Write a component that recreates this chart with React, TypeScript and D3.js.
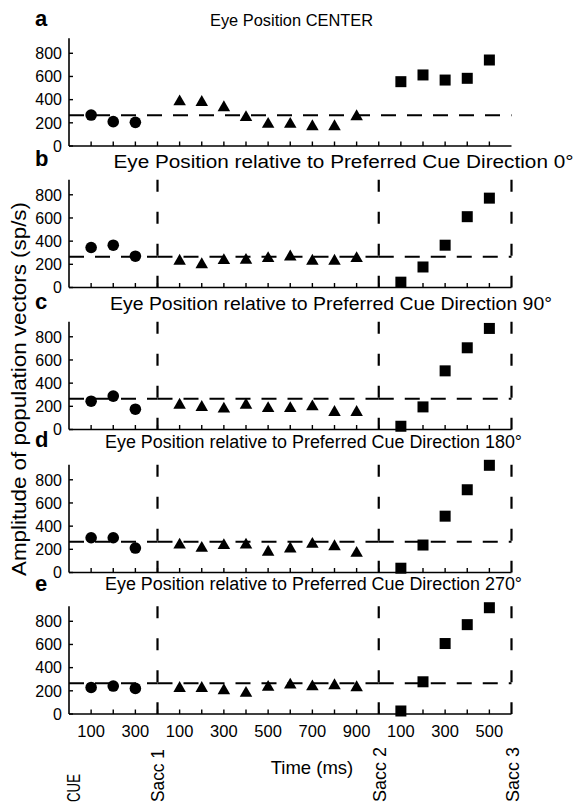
import React from "react";
import * as d3 from "d3";

// Time bins (ms) within each epoch
const cueTimes = [100, 200, 300];
const delayTimes = [100, 200, 300, 400, 500, 600, 700, 800, 900];
const postTimes = [100, 200, 300, 400, 500];

// Epoch boundaries, in slot units along the time axis
const eventLabels = ["CUE", "Sacc 1", "Sacc 2", "Sacc 3"];
const eventSlots = [0, 4, 14, 20];

// Tick labels printed under the bottom panel
const cueTickLabels = [100, 300];
const delayTickLabels = [100, 300, 500, 700, 900];
const postTickLabels = [100, 300, 500];

const yTicks = [0, 200, 400, 600, 800];
const baselineLevel = 265;

const panelLetters = ["a", "b", "c", "d", "e"];
const panelTitles = [
  "Eye Position CENTER",
  "Eye Position relative to Preferred Cue Direction 0\u00B0",
  "Eye Position relative to Preferred Cue Direction 90\u00B0",
  "Eye Position relative to Preferred Cue Direction 180\u00B0",
  "Eye Position relative to Preferred Cue Direction 270\u00B0",
];

// Amplitude of population vectors (sp/s), one array per epoch per panel
const cueValues = [
  [267, 210, 204],
  [345, 365, 270],
  [244, 288, 175],
  [300, 300, 211],
  [229, 241, 221],
];
const delayValues = [
  [395, 390, 345, 259, 201, 201, 181, 181, 267],
  [241, 211, 246, 249, 264, 278, 241, 241, 264],
  [224, 204, 190, 224, 195, 195, 210, 161, 161],
  [251, 223, 246, 251, 189, 217, 257, 237, 180],
  [235, 235, 215, 192, 244, 264, 249, 258, 241],
];
const postValues = [
  [555, 613, 569, 584, 742],
  [46, 177, 365, 611, 771],
  [28, 195, 506, 705, 872],
  [37, 237, 486, 714, 925],
  [26, 278, 608, 771, 917],
];

const W = 584;
const H = 805;
const FONT = "'Liberation Sans', Arial, Helvetica, sans-serif";

const panelBaselines = [146, 287.5, 429.5, 572.5, 714];
const titleBaselines = [26, 168, 310, 448, 590];
const titleCenter = [291.5, 343.5, 331, 313.5, 313.5];
const titleLen = [163, 460, 442, 417, 417];
const titleSize = [16.5, 18, 18, 18, 18];
const letterBaselines = [26, 166, 309, 447, 591];

const slotScale = d3.scaleLinear().domain([0, 20]).range([69, 511.5]);
const yMax = 930;
const pxPerUnit = 0.1159;

const cueSlot = (t: number) => t / 100;
const delaySlot = (t: number) => 4 + t / 100;
const postSlot = (t: number) => 14 + t / 100;

const triangle = d3.symbol().type(d3.symbolTriangle).size(68);

function Panel({ i }: { i: number }) {
  const base = panelBaselines[i];
  const y = d3.scaleLinear().domain([0, yMax]).range([base, base - yMax * pxPerUnit]);
  const top = y(yMax);
  const x0 = slotScale(0);
  const x1 = slotScale(20);
  const yRef = y(baselineLevel);
  const tickSlots = d3.range(1, 20);

  const hSegments =
    i === 0
      ? [[0, 20]]
      : [
          [0, 4],
          [4, 14],
          [14, 20],
        ];

  return (
    <g>
      <text
        x={35}
        y={letterBaselines[i]}
        fontSize={22}
        fontWeight="bold"
        fontFamily={FONT}
      >
        {panelLetters[i]}
      </text>
      <text
        x={titleCenter[i]}
        y={titleBaselines[i]}
        textAnchor="middle"
        fontSize={titleSize[i]}
        fontFamily={FONT}
        textLength={titleLen[i]}
        lengthAdjust="spacingAndGlyphs"
      >
        {panelTitles[i]}
      </text>

      {/* reference level */}
      {hSegments.map(([a, b], k) => (
        <line
          key={"h" + k}
          x1={slotScale(a)}
          x2={slotScale(b)}
          y1={yRef}
          y2={yRef}
          stroke="#000"
          strokeWidth={2}
          strokeDasharray="15 11"
        />
      ))}

      {/* saccade markers */}
      {i > 0 &&
        eventSlots.slice(1).map((s) => (
          <line
            key={"v" + s}
            x1={slotScale(s)}
            x2={slotScale(s)}
            y1={top}
            y2={base}
            stroke="#000"
            strokeWidth={2.2}
            strokeDasharray="12 20"
          />
        ))}

      {/* axes */}
      <line x1={x0} x2={x0} y1={top} y2={base} stroke="#000" strokeWidth={1.6} />
      <line x1={x0} x2={x1} y1={base} y2={base} stroke="#000" strokeWidth={1.6} />
      {tickSlots.map((s) => (
        <line
          key={"xt" + s}
          x1={slotScale(s)}
          x2={slotScale(s)}
          y1={base}
          y2={base - 4.5}
          stroke="#000"
          strokeWidth={1.4}
        />
      ))}
      {yTicks.map((v) => (
        <g key={"yt" + v}>
          <line x1={x0} x2={x0 + 4} y1={y(v)} y2={y(v)} stroke="#000" strokeWidth={1.4} />
          <text
            x={62}
            y={y(v)}
            dy="0.36em"
            textAnchor="end"
            fontSize={16}
            fontFamily={FONT}
          >
            {v}
          </text>
        </g>
      ))}

      {/* data */}
      {cueTimes.map((t, k) => (
        <circle key={"c" + k} cx={slotScale(cueSlot(t))} cy={y(cueValues[i][k])} r={5.8} fill="#000" />
      ))}
      {delayTimes.map((t, k) => (
        <path
          key={"d" + k}
          d={triangle() as string}
          transform={`translate(${slotScale(delaySlot(t))},${y(delayValues[i][k]) + 1.5})`}
          fill="#000"
        />
      ))}
      {postTimes.map((t, k) => (
        <rect
          key={"p" + k}
          x={slotScale(postSlot(t)) - 5.5}
          y={y(postValues[i][k]) - 5.5}
          width={11}
          height={11}
          fill="#000"
        />
      ))}
    </g>
  );
}

export default function App() {
  const bottomBase = panelBaselines[4];
  const bottomTicks = [
    ...cueTickLabels.map((t) => ({ t, s: cueSlot(t) })),
    ...delayTickLabels.map((t) => ({ t, s: delaySlot(t) })),
    ...postTickLabels.map((t) => ({ t, s: postSlot(t) })),
  ];
  const eventLabelX = [80, 164, 386, 519];
  const eventLabelLen = [28, 53, 55, 55];

  return (
    <svg
      width={W}
      height={H}
      viewBox={`0 0 ${W} ${H}`}
      style={{ position: "absolute", left: 0, top: 0, background: "#fff" }}
    >
      <rect width={W} height={H} fill="#fff" />
      {panelLetters.map((_, i) => (
        <Panel key={i} i={i} />
      ))}

      {bottomTicks.map(({ t, s }, k) => (
        <text
          key={"bt" + k}
          x={slotScale(s)}
          y={bottomBase + 23}
          textAnchor="middle"
          fontSize={16.5}
          fontFamily={FONT}
        >
          {t}
        </text>
      ))}

      <text x={312} y={774} textAnchor="middle" fontSize={18.5} fontFamily={FONT}>
        Time (ms)
      </text>

      {eventLabels.map((lab, k) => (
        <text
          key={"ev" + k}
          transform={`translate(${eventLabelX[k]},802) rotate(-90)`}
          fontSize={18}
          fontFamily={FONT}
          textLength={eventLabelLen[k]}
          lengthAdjust="spacingAndGlyphs"
        >
          {lab}
        </text>
      ))}

      <text
        transform="translate(26,389) rotate(-90)"
        textAnchor="middle"
        fontSize={21}
        fontFamily={FONT}
        textLength={374}
        lengthAdjust="spacingAndGlyphs"
      >
        Amplitude of population vectors (sp/s)
      </text>
    </svg>
  );
}
